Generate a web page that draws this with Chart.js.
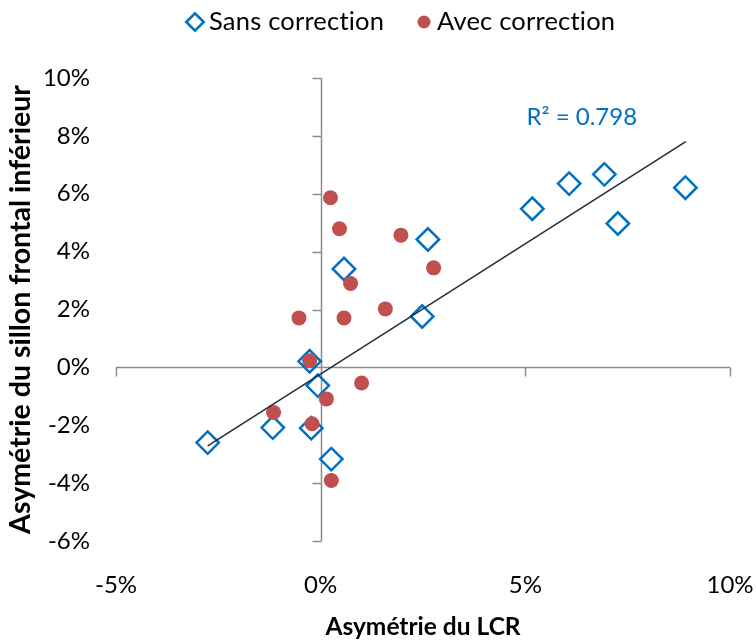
<!DOCTYPE html>
<html>
<head>
<meta charset="utf-8">
<script src="https://cdn.jsdelivr.net/npm/chart.js@4.4.1/dist/chart.umd.min.js"></script>
<style>
  html, body { margin: 0; padding: 0; background: #fff; }
</style>
</head>
<body>
<canvas id="graphique" width="756" height="642"></canvas>
<script>
// Asymétrie (%) : LCR en abscisse, sillon frontal inférieur en ordonnée
const sansX = [2.62, 5.17, 6.07, 6.93, 7.26, 8.91, 2.48, 0.57, -0.27, -0.07, -2.76, -1.17, -0.23, 0.26];
const sansY = [4.42, 5.48, 6.35, 6.67, 4.97, 6.21, 1.76, 3.40, 0.21, -0.63, -2.60, -2.08, -2.10, -3.17];
const avecX = [0.24, 0.46, 1.96, 0.73, 1.58, -0.53, 0.57, 2.76, -0.27, 1.00, 0.14, -1.15, -0.21, 0.26];
const avecY = [5.86, 4.79, 4.57, 2.90, 2.02, 1.71, 1.71, 3.44, 0.23, -0.54, -1.09, -1.56, -1.95, -3.91];

// droite de tendance (série sans correction)
const tendanceX = [-2.76, 8.92];
const tendanceY = [-2.71, 7.80];
const r2 = 0.798;

const xTicks = [-5, 0, 5, 10];
const yTicks = [-6, -4, -2, 0, 2, 4, 6, 8, 10];

const bleu = "#0070C0";
const rouge = "#C0504D";
const police = "Lato, 'Open Sans', sans-serif";

function points(xs, ys) {
  return xs.map((x, i) => ({ x: x, y: ys[i] }));
}

// axes qui se croisent à l'origine, avec graduations
const axesCroises = {
  id: "axesCroises",
  beforeDatasetsDraw(chart) {
    const { ctx, chartArea, scales } = chart;
    const x0 = Math.round(scales.x.getPixelForValue(0)) + 0.5;
    const y0 = Math.round(scales.y.getPixelForValue(0)) + 0.5;
    ctx.save();
    ctx.strokeStyle = "#8c8c8c";
    ctx.lineWidth = 1.5;
    ctx.beginPath();
    ctx.moveTo(x0, chartArea.top);
    ctx.lineTo(x0, chartArea.bottom);
    ctx.moveTo(chartArea.left, y0);
    ctx.lineTo(chartArea.right, y0);
    scales.y.ticks.forEach((t) => {
      const py = Math.round(scales.y.getPixelForValue(t.value)) + 0.5;
      ctx.moveTo(x0 - 9, py);
      ctx.lineTo(x0, py);
    });
    scales.x.ticks.forEach((t) => {
      const px = Math.round(scales.x.getPixelForValue(t.value)) + 0.5;
      ctx.moveTo(px, y0);
      ctx.lineTo(px, y0 + 9);
    });
    ctx.stroke();
    ctx.restore();
  },
};

// étiquette R² de la tendance
const etiquetteR2 = {
  id: "etiquetteR2",
  afterDatasetsDraw(chart) {
    const { ctx, scales } = chart;
    ctx.save();
    ctx.font = "24px " + police;
    ctx.fillStyle = bleu;
    ctx.textAlign = "center";
    ctx.textBaseline = "middle";
    ctx.fillText("R² = " + r2, scales.x.getPixelForValue(6.38), scales.y.getPixelForValue(8.64));
    ctx.restore();
  },
};

// légende en haut
const legende = {
  id: "legende",
  afterDraw(chart) {
    const ctx = chart.ctx;
    const yl = 22;
    ctx.save();
    ctx.lineWidth = 2.5;
    ctx.strokeStyle = bleu;
    ctx.fillStyle = "rgba(0,0,0,0)";
    Chart.helpers.drawPoint(ctx, { pointStyle: "rectRot", radius: 8.7, borderWidth: 2.5 }, 195, yl);
    ctx.fillStyle = rouge;
    ctx.strokeStyle = rouge;
    ctx.lineWidth = 0;
    Chart.helpers.drawPoint(ctx, { pointStyle: "circle", radius: 6.5, borderWidth: 0 }, 424, yl);
    ctx.font = "25.5px " + police;
    ctx.letterSpacing = "0.2px";
    ctx.fillStyle = "#000";
    ctx.textBaseline = "middle";
    ctx.textAlign = "left";
    ctx.fillText("Sans correction", 209, yl);
    ctx.fillText("Avec correction", 437, yl);
    ctx.restore();
  },
};

const ctx = document.getElementById("graphique").getContext("2d");
const graphique = new Chart(ctx, {
  type: "scatter",
  data: {
    datasets: [
      {
        label: "Sans correction",
        data: points(sansX, sansY),
        pointStyle: "rectRot",
        pointRadius: 11.2,
        pointBorderWidth: 2.5,
        borderColor: bleu,
        backgroundColor: "rgba(0,0,0,0)",
        order: 2,
      },
      {
        label: "Avec correction",
        data: points(avecX, avecY),
        pointStyle: "circle",
        pointRadius: 7.5,
        pointBorderWidth: 0,
        borderColor: rouge,
        backgroundColor: rouge,
        order: 1,
      },
      {
        label: "Tendance",
        data: points(tendanceX, tendanceY),
        showLine: true,
        borderColor: "#1d2d3b",
        borderWidth: 1.5,
        pointRadius: 0,
        order: 0,
      },
    ],
  },
  options: {
    responsive: false,
    animation: false,
    events: [],
    layout: { padding: { top: 78, right: 26, left: 0, bottom: 0 } },
    plugins: {
      legend: { display: false },
      tooltip: { enabled: false },
    },
    scales: {
      x: {
        type: "linear",
        min: -5,
        max: 10,
        afterBuildTicks: (s) => {
          s.ticks = xTicks.map((v) => ({ value: v }));
        },
        ticks: {
          callback: (v) => v + "%",
          font: { family: police, size: 24 },
          color: "#000",
          padding: 30,
          maxRotation: 0,
        },
        grid: { display: false, drawTicks: false },
        border: { display: false },
        title: {
          display: true,
          text: "Asymétrie du LCR",
          font: { family: police, size: 24.5, weight: "bold" },
          color: "#000",
          padding: { top: 0, bottom: 0 },
        },
        afterFit: (s) => {
          s.height = 101;
          s.paddingLeft = 0;
          s.paddingRight = 0;
        },
      },
      y: {
        type: "linear",
        min: -6,
        max: 10,
        afterBuildTicks: (s) => {
          s.ticks = yTicks.map((v) => ({ value: v }));
        },
        ticks: {
          callback: (v) => v + "%",
          font: { family: police, size: 24 },
          color: "#000",
          padding: 26,
        },
        grid: { display: false, drawTicks: false },
        border: { display: false },
        title: {
          display: true,
          text: "Asymétrie du sillon frontal inférieur",
          font: { family: police, size: 28.5, weight: "bold" },
          color: "#000",
          padding: { top: 4, bottom: 0 },
        },
        afterFit: (s) => {
          s.width = 116;
          s.paddingTop = 0;
          s.paddingBottom = 0;
        },
      },
    },
  },
  plugins: [axesCroises, etiquetteR2, legende],
});
</script>
</body>
</html>
